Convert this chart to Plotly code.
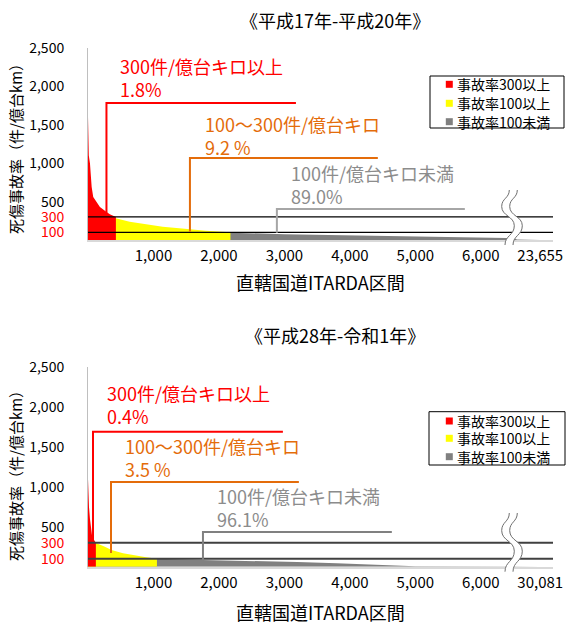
import plotly.graph_objects as go

FIG_W, FIG_H = 568, 625
FONT = "Noto Sans CJK JP"

# ---- colours ----
RED = "#FF0000"
YELLOW = "#FFFF00"
GRAY = "#808080"
ORANGE = "#E46C0A"
TEXT_GRAY = "#8C8C8C"

# ---- shared labels ----
class_names = ["事故率300以上", "事故率100以上", "事故率100未満"]
band_labels = ["300件/億台キロ以上", "100～300件/億台キロ", "100件/億台キロ未満"]
x_title = "直轄国道ITARDA区間"
y_title = "死傷事故率（件/億台km）"
x_ticks = [1000, 2000, 3000, 4000, 5000, 6000]
y_ticks = [100, 300, 500, 1000, 1500, 2000, 2500]
threshold_rates = [300, 100]
break_rank = 6400

# ---- 平成17年-平成20年 : sections sorted by rate (rank, rate) ----
h17_title = "《平成17年-平成20年》"
h17_total = 23655
h17_share = [1.8, 9.2, 89.0]
h17_red_rank = [0, 4, 12, 30, 45, 56, 80, 132, 182, 273, 333]
h17_red_rate = [1600, 1300, 1100, 1000, 800, 690, 560, 500, 430, 370, 335, 300]
h17_yellow_rank = [0, 200, 424, 636, 889, 1141, 1394, 1545, 1798]
h17_yellow_rate = [300, 295, 283, 238, 204, 173, 152, 139, 121, 100]
h17_gray_rank = [0, 2176, 3000, 4000, 5000, 6000, 6400, 9000]
h17_gray_rate = [100, 96, 75, 58, 45, 33, 25, 6, 0]

# ---- 平成28年-令和1年 ----
r1_title = "《平成28年-令和1年》"
r1_total = 30081
r1_share = [0.4, 3.5, 96.1]
r1_red_rank = [0, 5, 15, 30, 45, 60, 80, 100]
r1_red_rate = [1100, 900, 750, 600, 470, 400, 350, 320, 300]
r1_yellow_rank = [0, 60, 132, 258, 359, 535, 737, 889]
r1_yellow_rate = [300, 298, 295, 250, 209, 167, 137, 117, 100]
r1_gray_rank = [0, 1053, 1750, 2600, 3200, 3800, 4600, 5000, 6400]
r1_gray_rate = [100, 100, 85, 72, 58, 42, 17, 5, 2, 0]

share_formats = ["{:.1f}%", "{:.1f} %", "{:.1f}%"]


def px_x(px):
    """Pixel column -> paper fraction."""
    return px / FIG_W


def px_y(py):
    """Pixel row -> paper fraction."""
    return 1 - py / FIG_H


panels = [
    dict(
        title=h17_title, total=h17_total, share=h17_share,
        red=(h17_red_rank, h17_red_rate),
        yellow=(h17_yellow_rank, h17_yellow_rate),
        gray=(h17_gray_rank, h17_gray_rate),
        top=48, bottom=240, title_y=20, xtitle_y=282, ytitle_y=145,
        legend_box=(430, 76, 564, 128), legend_rows=[84.3, 103.3, 121.7],
        # (x, bottom rate, top rate, x end) in data units
        brackets=[(282, 352, 1784, 3176), (1557, 108, 1068, 4427), (2885, 95, 404, 5756)],
        # (x, centre rate of the two-line label)
        texts=[(458, 2122), (1756, 1367), (3069, 729)],
        ref_line=("#000000", 1.3), gray_bracket="#A6A6A6", brk=(190, 245),
    ),
    dict(
        title=r1_title, total=r1_total, share=r1_share,
        red=(r1_red_rank, r1_red_rate),
        yellow=(r1_yellow_rank, r1_yellow_rate),
        gray=(r1_gray_rank, r1_gray_rate),
        top=367, bottom=566.7, title_y=335, xtitle_y=612, ytitle_y=472,
        legend_box=(429, 411.7, 565, 465), legend_rows=[421, 438.3, 456.7],
        brackets=[(76, 334, 1688, 2977), (351, 171, 1059, 3221), (1756, 62, 434, 4641)],
        texts=[(260, 2028), (534, 1371), (1939, 740)],
        ref_line=("#404040", 2), gray_bracket="#808080", brk=(513, 571.7),
    ),
]

BREAK_PROFILE = [(-0.7, 0.0), (-8.3, 0.3), (4.3, 0.65), (-5.0, 1.0)]
BREAK_CX = 510


def break_points(y0, y1, shift):
    return [(BREAK_CX + dx + shift, y0 + t * (y1 - y0)) for dx, t in BREAK_PROFILE]


def bezier_segments(pts):
    s = ""
    for (xa, ya), (xb, yb) in zip(pts[:-1], pts[1:]):
        h = (yb - ya) / 2
        s += (f" C{px_x(xa):.5f},{px_y(ya + h):.5f} {px_x(xb):.5f},{px_y(yb - h):.5f}"
              f" {px_x(xb):.5f},{px_y(yb):.5f}")
    return s


fig = go.Figure()
layout = dict(shapes=[], annotations=[])

for i, p in enumerate(panels):
    xl_n, xr_n, y_n = 2 * i + 1, 2 * i + 2, i + 1
    xl = "x" if xl_n == 1 else f"x{xl_n}"
    xr = f"x{xr_n}"
    yy = "y" if y_n == 1 else f"y{y_n}"
    total = p["total"]
    n_red = round(total * p["share"][0] / 100)
    n_yellow = round(total * p["share"][1] / 100)

    red_x = p["red"][0] + [n_red]
    yellow_x = p["yellow"][0] + [n_yellow]
    gray_x = p["gray"][0] + [total]

    series = [(gray_x, p["gray"][1], GRAY), (yellow_x, p["yellow"][1], YELLOW),
              (red_x, p["red"][1], RED)]
    for xs, ys, col in series:
        fig.add_trace(go.Scatter(x=xs, y=ys, xaxis=xl, yaxis=yy, mode="lines",
                                 fill="tozeroy", fillcolor=col,
                                 line=dict(width=0, color=col),
                                 hoverinfo="skip", showlegend=False))
    # tail of the distribution beyond the axis break
    fig.add_trace(go.Scatter(x=gray_x, y=p["gray"][1], xaxis=xr, yaxis=yy, mode="lines",
                             fill="tozeroy", fillcolor=GRAY, line=dict(width=0, color=GRAY),
                             hoverinfo="skip", showlegend=False))

    common_x = dict(showgrid=False, zeroline=False, showline=True, linecolor="#D9D9D9",
                    linewidth=2, ticks="", tickfont=dict(family=FONT, size=15, color="#000000"),
                    anchor=yy, ticklabelstandoff=1, fixedrange=True, automargin=False)
    layout["xaxis" if xl_n == 1 else f"xaxis{xl_n}"] = dict(
        domain=[px_x(88), px_x(507)], range=[0, break_rank],
        tickvals=x_ticks, ticktext=[f"{v:,}" for v in x_ticks], **common_x)
    layout[f"xaxis{xr_n}"] = dict(
        domain=[px_x(513), px_x(553)],
        range=[break_rank, break_rank + (total - break_rank) / 0.68],
        tickvals=[total], ticktext=[f"{total:,}"], **common_x)
    layout["yaxis" if y_n == 1 else f"yaxis{y_n}"] = dict(
        domain=[px_y(p["bottom"]), px_y(p["top"])], range=[0, 2500], anchor=xl,
        tickvals=y_ticks,
        ticktext=[f"<span style='color:{RED}'>{v:,}</span>" if v in threshold_rates
                  else f"{v:,}" for v in y_ticks],
        showgrid=False, zeroline=False, showline=True, linecolor="#BFBFBF", linewidth=1,
        ticks="", tickfont=dict(family=FONT, size=14, color="#000000"),
        ticklabelstandoff=20, fixedrange=True, automargin=False)

    # threshold reference lines at 300 and 100
    lc, lw = p["ref_line"]
    for r in threshold_rates:
        layout["shapes"].append(dict(type="line", xref="paper", yref=yy,
                                     x0=px_x(88), x1=px_x(553), y0=r, y1=r,
                                     line=dict(color=lc, width=lw)))

    # brackets + two-line band labels (class name, share)
    band_colors = [RED, ORANGE, p["gray_bracket"]]
    text_colors = [RED, ORANGE, TEXT_GRAY]
    for k, ((bx, by0, by1, bx1), (tx, ty)) in enumerate(zip(p["brackets"], p["texts"])):
        layout["shapes"].append(dict(type="path", xref=xl, yref=yy,
                                     path=f"M{bx},{by0} L{bx},{by1} L{bx1},{by1}",
                                     line=dict(color=band_colors[k], width=2)))
        label = band_labels[k] + "<br>" + share_formats[k].format(p["share"][k])
        layout["annotations"].append(dict(
            xref=xl, yref=yy, x=tx, y=ty, text=label, showarrow=False,
            xanchor="left", yanchor="middle", align="left",
            font=dict(family=FONT, size=18, color=text_colors[k])))

    # axis break symbol
    y0b, y1b = p["brk"]
    left = break_points(y0b, y1b, 0)
    right = break_points(y0b, y1b, 8)
    fill_path = (f"M{px_x(left[0][0]):.5f},{px_y(left[0][1]):.5f}" + bezier_segments(left)
                 + f" L{px_x(right[-1][0]):.5f},{px_y(right[-1][1]):.5f}"
                 + bezier_segments(right[::-1]) + " Z")
    layout["shapes"].append(dict(type="path", xref="paper", yref="paper", path=fill_path,
                                 fillcolor="white", line=dict(width=0)))
    for pts in (left, right):
        layout["shapes"].append(dict(
            type="path", xref="paper", yref="paper",
            path=f"M{px_x(pts[0][0]):.5f},{px_y(pts[0][1]):.5f}" + bezier_segments(pts),
            line=dict(color="#6E6E6E", width=1)))

    # legend box
    lx0, ly0, lx1, ly1 = p["legend_box"]
    layout["shapes"].append(dict(type="rect", xref="paper", yref="paper",
                                 x0=px_x(lx0), x1=px_x(lx1), y0=px_y(ly1), y1=px_y(ly0),
                                 line=dict(color="#000000", width=1), fillcolor="white"))
    for name, col, ry in zip(class_names, [RED, YELLOW, GRAY], p["legend_rows"]):
        layout["shapes"].append(dict(type="rect", xref="paper", yref="paper",
                                     x0=px_x(445.8), x1=px_x(452.8),
                                     y0=px_y(ry + 3.5), y1=px_y(ry - 3.5),
                                     fillcolor=col, line=dict(width=0)))
        layout["annotations"].append(dict(
            xref="paper", yref="paper", x=px_x(455), y=px_y(ry), text=name,
            showarrow=False, xanchor="left", yanchor="middle",
            font=dict(family=FONT, size=14, color="#000000")))

    # titles
    layout["annotations"].append(dict(
        xref="paper", yref="paper", x=px_x(335), y=px_y(p["title_y"]), text=p["title"],
        showarrow=False, xanchor="center", yanchor="middle",
        font=dict(family=FONT, size=18, color="#000000")))
    layout["annotations"].append(dict(
        xref="paper", yref="paper", x=px_x(320), y=px_y(p["xtitle_y"]), text=x_title,
        showarrow=False, xanchor="center", yanchor="middle",
        font=dict(family=FONT, size=18, color="#000000")))
    layout["annotations"].append(dict(
        xref="paper", yref="paper", x=px_x(15), y=px_y(p["ytitle_y"]), text=y_title,
        showarrow=False, xanchor="center", yanchor="middle", textangle=-90,
        font=dict(family=FONT, size=15, color="#000000")))

fig.update_layout(
    width=FIG_W, height=FIG_H, margin=dict(l=0, r=0, t=0, b=0, autoexpand=False),
    paper_bgcolor="white", plot_bgcolor="white", showlegend=False,
    font=dict(family=FONT), **layout)

fig.write_html("out.html")
